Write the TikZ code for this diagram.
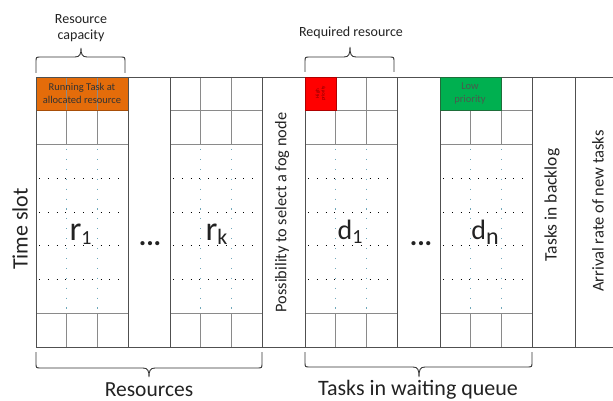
\documentclass[tikz,border=0pt]{standalone}
\usepackage{fontspec}
\setmainfont{Carlito}
\definecolor{taskorange}{HTML}{E46C0A}
\definecolor{orangeedge}{HTML}{A84E08}
\definecolor{taskred}{HTML}{FF0000}
\definecolor{rededge}{HTML}{B00000}
\definecolor{taskgreen}{HTML}{00B050}
\definecolor{greenedge}{HTML}{1E6E3A}
\definecolor{framegray}{HTML}{505050}
\definecolor{cellgray}{HTML}{8A8A8A}
\definecolor{vdot}{HTML}{6FA8BA}
\definecolor{txt}{HTML}{222222}
\definecolor{lowtxt}{HTML}{4A5A4E}
\newcommand\fsz[1]{\fontsize{#1}{#1}\selectfont}
% block of a resource / task: #1 = left x
\newcommand\qblock[1]{%
  \foreach \yy in {110,144,313} {\draw[cell] (#1,\yy) -- ({#1+92},\yy);}
  \foreach \dx in {30.67,61.33} {%
    \draw[cell] ({#1+\dx},77) -- ({#1+\dx},144);
    \draw[cell] ({#1+\dx},313) -- ({#1+\dx},347);}
  \foreach \yy in {178,212,245,279} {\draw[hdots] ({#1+3},\yy) -- ({#1+86},\yy);}
  \foreach \dx in {30.67,61.33} {\draw[vdots] ({#1+\dx},149) -- ({#1+\dx},312);}
}
% brace: x0, xm, x1, yend, ybody, ytip, s
\newcommand\qbrace[7]{%
  \draw[bracepath] (#1,#4) -- (#1,{#5+5*#7}) .. controls (#1,#5) .. ({#1+5},#5)
    -- ({#2-6},#5) .. controls ({#2-1},#5) and (#2,{#5-3*#7}) .. (#2,#6)
    .. controls (#2,{#5-3*#7}) and ({#2+1},#5) .. ({#2+6},#5)
    -- ({#3-5},#5) .. controls (#3,#5) .. (#3,{#5+5*#7}) -- (#3,#4);
}
\begin{document}
\begin{tikzpicture}[x=1pt,y=-1pt,
  frame/.style={draw=framegray,line width=0.9pt},
  cell/.style={draw=cellgray,line width=0.6pt},
  hdots/.style={draw=black,line width=1pt,dash pattern=on 1pt off 7.8pt},
  vdots/.style={draw=vdot,line width=1.1pt,dash pattern=on 1.1pt off 8.8pt},
  bracepath/.style={draw=black!80,line width=0.9pt},
  lbl/.style={inner sep=0pt,text=txt},
]
\useasboundingbox (0,0) rectangle (613,401);

% orange running task (under the grid lines)
\fill[taskorange] (36,77) rectangle (128,110);
\qblock{36}
\draw[orangeedge,line width=0.6pt] (36,77) rectangle (128,110);
\qblock{170}
\qblock{305}
\qblock{440}

% frames of blocks and columns
\draw[frame] (36,77) rectangle (128,347);
\draw[frame] (128,77) rectangle (170,347);
\draw[frame] (170,77) rectangle (262,347);
\draw[frame] (262,77) rectangle (305,347);
\draw[frame] (305,77) rectangle (397,347);
\draw[frame] (397,77) rectangle (440,347);
\draw[frame] (440,77) rectangle (532,347);
\draw[frame] (532,77) rectangle (575,347);
\draw[frame] (575,77) -- (613,77);
\draw[frame] (575,347) -- (613,347);

% coloured task cells
\draw[fill=taskred,draw=rededge,line width=0.6pt] (305,77) rectangle (336,110);
\draw[fill=taskgreen,draw=greenedge,line width=0.6pt] (440,77) rectangle (501,110);

\node[lbl,align=center,font=\fontsize{10.5}{12.5}\selectfont,text=black!80] (running) at (82,93.5) {Running Task at\\allocated resource};
\node[lbl,align=center,font=\fontsize{5}{5.5}\selectfont,text=rededge!70!black,rotate=90] (high) at (320.5,93.5) {High\\priority};
\node[lbl,align=center,font=\fontsize{10.5}{13}\selectfont,text=lowtxt] (low) at (470,93.5) {Low\\priority};

% block labels
\node[lbl,anchor=base] (r1) at (80.5,240) {\fsz{34}r\raisebox{-4pt}{\fsz{20}1}};
\node[lbl,anchor=base] (rk) at (216.5,240) {\fsz{34}r\raisebox{-4pt}{\fsz{22}k}};
\node[lbl,anchor=base] (d1) at (350,239) {\fsz{28}d\raisebox{-4pt}{\fsz{20}1}};
\node[lbl,anchor=base] (dn) at (485,239) {\fsz{28}d\raisebox{-5pt}{\fsz{24}n}};
\node[lbl,anchor=base] (dotsr) at (150,245.5) {\fsz{28}\bfseries ...};
\node[lbl,anchor=base] (dotsd) at (421,245.5) {\fsz{28}\bfseries ...};

% vertical texts
\node[lbl,rotate=90,font=\fsz{22}] (timeslot) at (20,229) {Time slot};
\node[lbl,rotate=90,font=\fsz{16.3}] (possib) at (282,212.5) {Possibility to select a fog node};
\node[lbl,rotate=90,font=\fsz{17.5}] (backlog) at (552,205) {Tasks in backlog};
\node[lbl,rotate=90,font=\fsz{16.5}] (arrival) at (598,211) {Arrival rate of new tasks};

% top braces and labels
\qbrace{36}{81}{125}{73}{57}{48}{1}
\node[lbl,align=center,font=\fontsize{14}{16}\selectfont] (capacity) at (81,28) {Resource\\capacity};
\qbrace{305}{350}{394}{72}{57}{47}{1}
\node[lbl,font=\fsz{14}] (required) at (351,33) {Required resource};

% bottom braces and labels
\qbrace{36}{149}{262}{352}{368}{377}{-1}
\node[lbl,anchor=base,font=\fsz{21.5}] (resources) at (149,396.5) {Resources};
\qbrace{305}{419}{532}{352}{367}{377}{-1}
\node[lbl,anchor=base,font=\fsz{22}] (waiting) at (418,395.5) {Tasks in waiting queue};
\end{tikzpicture}
\end{document}
